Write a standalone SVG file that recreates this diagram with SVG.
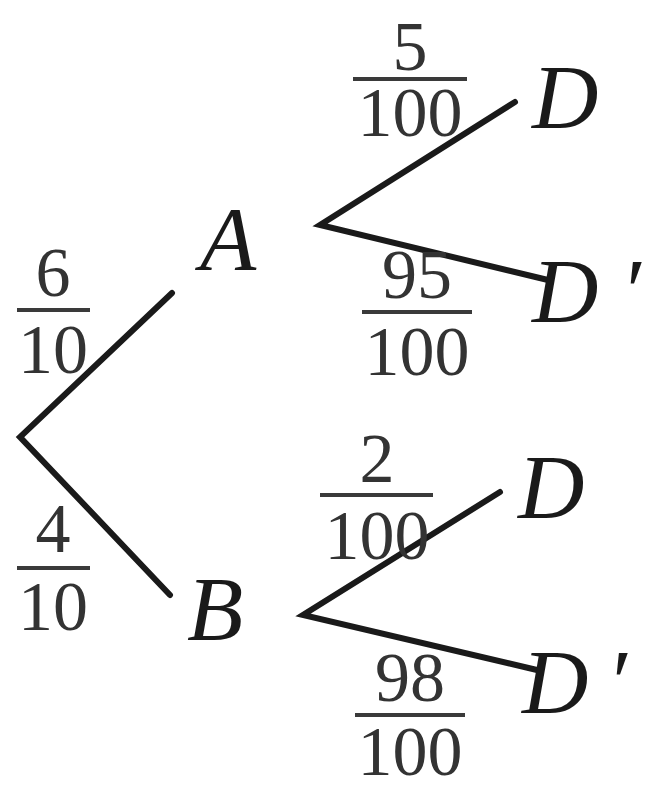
<svg xmlns="http://www.w3.org/2000/svg" width="658" height="793" viewBox="0 0 658 793">
<style>
.edge{stroke:#1a1a1a;stroke-width:6;stroke-linecap:round;fill:none}
.bar{stroke:#3a3a3a;stroke-width:4}
.num{font-family:"Liberation Serif","Times New Roman",serif;font-size:70px;fill:#333;text-anchor:middle}
.lbl{font-family:"Liberation Serif","Times New Roman",serif;font-style:italic;font-size:92px;fill:#1a1a1a}
</style>
<rect width="658" height="793" fill="#fff"/>
<g id="connectors">
<path class="edge" d="M172,293 L20,437 L170,595"/>
<path class="edge" d="M515,102 L320,225 L548,280"/>
<path class="edge" d="M500,492 L303,615 L537,670"/>
</g>
<g id="edge-labels">
<g id="p-A"><text class="num" x="53" y="296">6</text><line class="bar" x1="17" y1="310" x2="90" y2="310"/><text class="num" x="53" y="373">10</text></g>
<g id="p-B"><text class="num" x="53" y="552">4</text><line class="bar" x1="17" y1="568" x2="90" y2="568"/><text class="num" x="53" y="630">10</text></g>
<g id="p-AD"><text class="num" x="410" y="70">5</text><line class="bar" x1="353" y1="79" x2="467" y2="79"/><text class="num" x="410" y="136">100</text></g>
<g id="p-ADp"><text class="num" x="417" y="298">95</text><line class="bar" x1="362" y1="312" x2="472" y2="312"/><text class="num" x="417" y="375">100</text></g>
<g id="p-BD"><text class="num" x="377" y="482">2</text><line class="bar" x1="320" y1="495" x2="433" y2="495"/><text class="num" x="377" y="559">100</text></g>
<g id="p-BDp"><text class="num" x="410" y="701">98</text><line class="bar" x1="355" y1="715" x2="465" y2="715"/><text class="num" x="410" y="775">100</text></g>
</g>
<g id="node-A"><text class="lbl" x="200" y="270">A</text></g>
<g id="node-B"><text class="lbl" x="187" y="640">B</text></g>
<g id="node-AD"><text class="lbl" x="532" y="128">D</text></g>
<g id="node-ADp"><text class="lbl" x="532" y="322">D<tspan dx="22">′</tspan></text></g>
<g id="node-BD"><text class="lbl" x="518" y="518">D</text></g>
<g id="node-BDp"><text class="lbl" x="522" y="713">D<tspan dx="18">′</tspan></text></g>
</svg>
